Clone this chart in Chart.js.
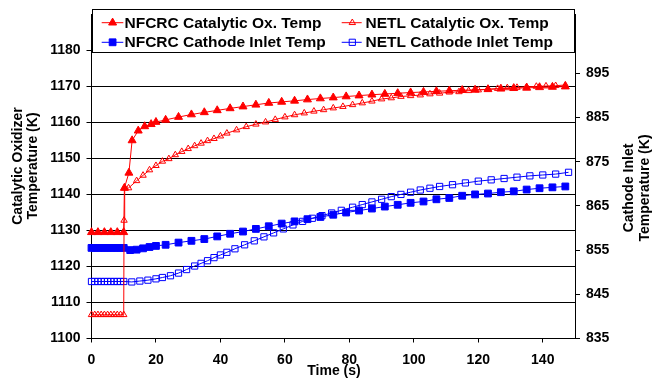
<!DOCTYPE html>
<html><head><meta charset="utf-8">
<script src="https://cdn.jsdelivr.net/npm/chart.js@4.4.0/dist/chart.umd.min.js"></script>
<style>html,body{margin:0;padding:0;background:#fff;}</style>
</head><body>
<canvas id="c" width="652" height="379"></canvas>
<script>
// ---- data ----
const nfcrcCatTime = [0,2,4,6,8,10,10.2,11.6,12.6,14.5,16.5,18.5,20,23,27,31,35,39,43,47,51,55,59,63,67,71,75,79,83,87,91,95,99,103,107,111,115,119,123,127,131,135,139,143,147];
const nfcrcCatTemp = [1129.5,1129.5,1129.5,1129.5,1129.5,1129.5,1141.8,1146,1155,1157.7,1158.9,1159.5,1160.1,1160.7,1161.5,1162.2,1162.8,1163.35,1163.9,1164.4,1164.9,1165.4,1165.7,1166.0,1166.35,1166.65,1166.9,1167.2,1167.45,1167.7,1167.9,1168.1,1168.3,1168.45,1168.65,1168.8,1168.95,1169.05,1169.2,1169.35,1169.5,1169.6,1169.75,1169.85,1169.95];

const netlCatTime = [0,1,2,3,4,5,6,7,8,9,10,10.1,10.3,11.5,14,16,18,20,22,24,26,28,30,32,34,36,38,40,42,45,48,51,54,57,60,63,66,69,72,75,78,81,84,87,90,93,96,99,102,105,108,111,114,117,120,123,126,129,132,135,138,141,144,147];
const netlCatTemp = [1106.6,1106.6,1106.6,1106.6,1106.6,1106.6,1106.6,1106.6,1106.6,1106.6,1106.6,1132.8,1141.8,1141.8,1143.8,1145.3,1146.8,1148.0,1149.2,1149.9,1151.0,1151.9,1152.7,1153.5,1154.2,1154.9,1155.5,1156.2,1157.0,1157.9,1158.8,1159.5,1160.1,1160.8,1161.5,1162.1,1162.6,1163.1,1163.5,1164.0,1164.4,1164.9,1165.4,1165.9,1166.5,1166.8,1167.2,1167.4,1167.6,1167.9,1168.1,1168.4,1168.5,1168.8,1169.0,1169.2,1169.4,1169.6,1169.7,1169.9,1170.0,1170.1,1170.2,1170.4];

const nfcrcCathTime = [0,1,2,3,4,5,6,7,8,9,10,12,14,16,18,20,23,27,31,35,39,43,47,51,55,59,63,67,71,75,79,83,87,91,95,99,103,107,111,115,119,123,127,131,135,139,143,147];
const nfcrcCathTemp = [855.5,855.5,855.5,855.5,855.5,855.5,855.5,855.5,855.5,855.5,855.5,855.0,855.1,855.4,855.7,855.95,856.2,856.7,857.1,857.5,858.1,858.7,859.2,859.8,860.4,861.0,861.5,862.0,862.5,863.0,863.5,863.95,864.4,864.85,865.25,865.7,866.0,866.5,866.8,867.3,867.6,867.8,868.1,868.3,868.7,869.0,869.2,869.4];

const netlCathTime = [0,1,2,3,4,5,6,7,8,9,10,12.5,15,17.5,20,22,24.5,27,29.5,32,34,36,38,40,42,44.5,47.5,50.5,53.5,56.5,59.5,62.5,65.5,68.5,71.5,74.5,77.5,81,84,87,90,93,96,99,102,105,108,112,116,120,124,128,132,136,140,144,148];
const netlCathTemp = [847.9,847.9,847.9,847.9,847.9,847.9,847.9,847.9,847.9,847.9,847.9,847.8,848.0,848.2,848.5,848.8,849.2,849.8,850.6,851.4,852.0,852.6,853.3,853.9,854.5,855.3,856.2,857.1,858.0,858.9,859.8,860.7,861.5,862.2,862.8,863.4,864.0,864.7,865.3,865.9,866.5,867.1,867.6,868.1,868.6,869.0,869.4,869.8,870.2,870.6,870.9,871.2,871.5,871.8,872.0,872.2,872.6];

const seriesLabels = ['NFCRC Catalytic Ox. Temp','NETL Catalytic Ox. Temp','NFCRC Cathode Inlet Temp','NETL Cathode Inlet Temp'];
const xTicks = [0,20,40,60,80,100,120,140];
const leftTicks = [1100,1110,1120,1130,1140,1150,1160,1170,1180];
const rightTicks = [835,845,855,865,875,885,895];
const xTitle = 'Time (s)';
const leftTitle = ['Catalytic Oxidizer','Temperature (K)'];
const rightTitle = ['Cathode Inlet','Temperature (K)'];

// ---- chart ----
const FAM = '"Liberation Sans", Arial, sans-serif';
const pts = (t, v) => t.map((x, i) => ({x: x, y: v[i]}));
const RED = '#FF0000', BLUE = '#0000FF';

const legendPlugin = {
  id: 'boxLegend',
  afterDatasetsDraw(chart) {
    const ctx = chart.ctx;
    ctx.save();
    ctx.fillStyle = '#fff';
    ctx.fillRect(92.5, 9.5, 482, 43);
    ctx.strokeStyle = '#000'; ctx.lineWidth = 1;
    ctx.strokeRect(92.5, 9.5, 482, 43);
    const cols = [{l0: 101.7, l1: 123.3, m: 112.6, tx: 124.5}, {l0: 341.7, l1: 361.7, m: 352.3, tx: 365.5}];
    const rows = [22.7, 42.3];
    chart.data.datasets.forEach((ds, i) => {
      const c = cols[i % 2], yc = rows[Math.floor(i / 2)];
      ctx.strokeStyle = ds.borderColor; ctx.lineWidth = 1;
      ctx.beginPath(); ctx.moveTo(c.l0, yc); ctx.lineTo(c.l1, yc); ctx.stroke();
      ctx.fillStyle = ds.pointBackgroundColor;
      ctx.strokeStyle = ds.pointBorderColor;
      ctx.lineWidth = ds.pointBorderWidth;
      Chart.helpers.drawPoint(ctx, {pointStyle: ds.pointStyle, radius: ds.pointRadius, borderWidth: ds.pointBorderWidth, rotation: 0}, c.m, yc);
      ctx.fillStyle = '#000';
      ctx.font = 'bold 15.5px ' + FAM;
      ctx.textAlign = 'left'; ctx.textBaseline = 'alphabetic';
      ctx.fillText(ds.label, c.tx, yc + 4.8);
    });
    ctx.restore();
  }
};

const titlePlugin = {
  id: 'axisTitles',
  afterDraw(chart) {
    const ctx = chart.ctx;
    ctx.save();
    ctx.fillStyle = '#000';
    ctx.font = 'bold 14px ' + FAM;
    ctx.textAlign = 'center'; ctx.textBaseline = 'alphabetic';
    ctx.fillText(xTitle, 334, 374.5);
    ctx.save(); ctx.translate(0, 166); ctx.rotate(-Math.PI / 2);
    ctx.fillText(leftTitle[0], 0, 21.5);
    ctx.fillText(leftTitle[1], 0, 37);
    ctx.restore();
    ctx.save(); ctx.translate(0, 188); ctx.rotate(-Math.PI / 2);
    ctx.fillText(rightTitle[0], 0, 633.3);
    ctx.fillText(rightTitle[1], 0, 648.5);
    ctx.restore();
    ctx.restore();
  }
};

const tickFont = {family: FAM, size: 14, weight: 'bold'};
const plain = v => String(v);

new Chart(document.getElementById('c'), {
  type: 'line',
  data: {
    datasets: [
      {label: seriesLabels[0], data: pts(nfcrcCatTime, nfcrcCatTemp), yAxisID: 'y',
       borderColor: RED, backgroundColor: RED, borderWidth: 1,
       pointStyle: 'triangle', pointRadius: 4.6, pointBackgroundColor: RED, pointBorderColor: RED, pointBorderWidth: 1},
      {label: seriesLabels[1], data: pts(netlCatTime, netlCatTemp), yAxisID: 'y',
       borderColor: RED, backgroundColor: RED, borderWidth: 1,
       pointStyle: 'triangle', pointRadius: 3.7, pointBackgroundColor: 'rgba(0,0,0,0)', pointBorderColor: RED, pointBorderWidth: 1},
      {label: seriesLabels[2], data: pts(nfcrcCathTime, nfcrcCathTemp), yAxisID: 'y1',
       borderColor: BLUE, backgroundColor: BLUE, borderWidth: 1,
       pointStyle: 'rect', pointRadius: 4.8, pointBackgroundColor: BLUE, pointBorderColor: BLUE, pointBorderWidth: 1},
      {label: seriesLabels[3], data: pts(netlCathTime, netlCathTemp), yAxisID: 'y1',
       borderColor: BLUE, backgroundColor: BLUE, borderWidth: 1,
       pointStyle: 'rect', pointRadius: 4.4, pointBackgroundColor: 'rgba(0,0,0,0)', pointBorderColor: BLUE, pointBorderWidth: 1}
    ]
  },
  options: {
    responsive: false,
    animation: false,
    devicePixelRatio: 1,
    layout: {padding: {top: 8.5, left: 0, right: 0, bottom: 0}},
    elements: {line: {tension: 0}},
    datasets: {line: {clip: false}},
    plugins: {legend: {display: false}, tooltip: {enabled: false}},
    scales: {
      x: {
        type: 'linear', min: 0, max: 150,
        afterBuildTicks: s => { s.ticks = xTicks.map(v => ({value: v})); },
        afterFit: s => { s.height = 40.5; },
        ticks: {font: tickFont, color: '#000', padding: 9, maxRotation: 0, autoSkip: false, callback: plain},
        grid: {drawOnChartArea: false, drawTicks: true, tickLength: 4, color: '#000'},
        border: {display: true, color: '#000', width: 1}
      },
      y: {
        position: 'left', min: 1100, max: 1190,
        afterBuildTicks: s => { s.ticks = leftTicks.map(v => ({value: v})); },
        afterFit: s => { s.width = 91.5; },
        ticks: {font: tickFont, color: '#000', padding: 6, callback: plain},
        grid: {drawOnChartArea: true, drawTicks: true, tickLength: 5, color: '#000'},
        border: {display: true, color: '#000', width: 1}
      },
      y1: {
        position: 'right', min: 835, max: 835 + 330 / 4.5,
        afterBuildTicks: s => { s.ticks = rightTicks.map(v => ({value: v})); },
        afterFit: s => { s.width = 77; },
        ticks: {font: tickFont, color: '#000', padding: 6, callback: plain},
        grid: {drawOnChartArea: false, drawTicks: true, tickLength: 5, color: '#000'},
        border: {display: true, color: '#000', width: 1}
      }
    }
  },
  plugins: [legendPlugin, titlePlugin]
});
</script>
</body></html>
